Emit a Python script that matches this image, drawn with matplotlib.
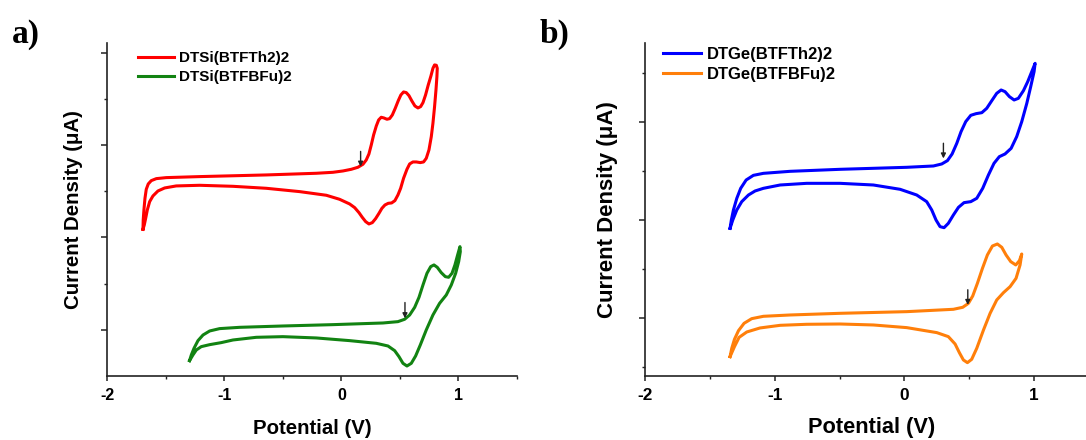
import matplotlib.pyplot as plt
from matplotlib.ticker import MultipleLocator, FixedLocator

plt.rcParams['font.family'] = 'Liberation Sans'
plt.rcParams['font.weight'] = 'bold'
plt.rcParams['axes.labelweight'] = 'bold'
plt.rcParams['axes.unicode_minus'] = False

# ---- data (forward scan, then reverse scan) ----
# a) DTSi(BTFTh2)2
si_th_v = [-1.695, -1.693, -1.687, -1.678, -1.667, -1.650, -1.624, -1.581, -1.496, -1.211,
           -0.641, -0.214, -0.072, 0.014, 0.085, 0.142, 0.185, 0.213, 0.236, 0.256,
           0.276, 0.299, 0.319, 0.341, 0.364, 0.390, 0.413, 0.436, 0.461, 0.487,
           0.509, 0.532, 0.555, 0.578, 0.603, 0.629, 0.655, 0.678, 0.698, 0.720,
           0.743, 0.766, 0.783, 0.797, 0.812, 0.820,
           0.817, 0.809, 0.797, 0.783, 0.769, 0.749, 0.726, 0.703, 0.675, 0.641,
           0.612, 0.584, 0.561, 0.532, 0.507, 0.484, 0.458, 0.430, 0.401, 0.373,
           0.347, 0.322, 0.293, 0.265, 0.236, 0.208, 0.179, 0.151, 0.114, 0.071,
           -0.015, -0.128, -0.356, -0.641, -0.926, -1.211, -1.411, -1.510, -1.567, -1.610,
           -1.638, -1.658, -1.672, -1.684, -1.695]
si_th_j = [3.175, 3.377, 3.593, 3.846, 4.040, 4.156, 4.228, 4.271, 4.293, 4.315,
           4.351, 4.387, 4.408, 4.437, 4.473, 4.517, 4.582, 4.675, 4.805, 5.000,
           5.216, 5.411, 5.541, 5.599, 5.584, 5.556, 5.570, 5.649, 5.794, 5.960,
           6.082, 6.147, 6.133, 6.068, 5.952, 5.844, 5.801, 5.830, 5.916, 6.082,
           6.299, 6.494, 6.659, 6.732, 6.724, 6.659,
           6.479, 6.190, 5.830, 5.469, 5.180, 4.892, 4.711, 4.632, 4.618, 4.632,
           4.632, 4.589, 4.473, 4.279, 4.062, 3.918, 3.795, 3.745, 3.737, 3.701,
           3.629, 3.521, 3.405, 3.319, 3.290, 3.341, 3.434, 3.535, 3.644, 3.723,
           3.824, 3.911, 3.990, 4.062, 4.105, 4.127, 4.113, 4.069, 4.004, 3.896,
           3.773, 3.593, 3.413, 3.268, 3.175]

# a) DTSi(BTFBFu)2
si_fu_v = [-1.297, -1.282, -1.259, -1.225, -1.182, -1.125, -1.040, -0.869, -0.499, -0.072,
           0.356, 0.484, 0.541, 0.584, 0.627, 0.664, 0.698, 0.732, 0.764, 0.792,
           0.820, 0.854, 0.889, 0.917, 0.946, 0.971, 0.994, 1.014,
           1.017, 1.003, 0.977, 0.940, 0.897, 0.840, 0.783, 0.726, 0.675, 0.635,
           0.598, 0.561, 0.527, 0.493, 0.456, 0.399, 0.299, 0.071, -0.214, -0.499,
           -0.727, -0.926, -1.026, -1.125, -1.197, -1.239, -1.268, -1.297]
si_fu_j = [0.332, 0.455, 0.599, 0.765, 0.887, 0.974, 1.025, 1.053, 1.082, 1.111,
           1.147, 1.176, 1.227, 1.320, 1.486, 1.703, 1.970, 2.222, 2.367, 2.403,
           2.352, 2.237, 2.150, 2.136, 2.222, 2.403, 2.619, 2.799,
           2.691, 2.475, 2.222, 1.970, 1.753, 1.573, 1.320, 0.996, 0.671, 0.433,
           0.274, 0.216, 0.274, 0.418, 0.548, 0.649, 0.707, 0.765, 0.823, 0.851,
           0.837, 0.779, 0.722, 0.678, 0.635, 0.563, 0.455, 0.332]

# b) DTGe(BTFTh2)2
ge_th_v = [-1.344, -1.334, -1.318, -1.292, -1.262, -1.220, -1.164, -1.087, -0.881, -0.496,
           0.018, 0.224, 0.288, 0.332, 0.368, 0.404, 0.437, 0.473, 0.512, 0.553,
           0.597, 0.635, 0.674, 0.712, 0.746, 0.776, 0.810, 0.846, 0.879, 0.918,
           0.951, 0.982, 1.008,
           1.000, 0.974, 0.944, 0.905, 0.866, 0.823, 0.776, 0.732, 0.691, 0.648,
           0.604, 0.558, 0.512, 0.460, 0.417, 0.378, 0.339, 0.306, 0.275, 0.244,
           0.211, 0.172, 0.095, -0.033, -0.239, -0.496, -0.753, -0.958, -1.087, -1.151,
           -1.202, -1.254, -1.292, -1.323, -1.344]
ge_th_j = [2.824, 2.994, 3.198, 3.436, 3.640, 3.810, 3.905, 3.946, 3.987, 4.028,
           4.069, 4.096, 4.137, 4.205, 4.341, 4.558, 4.797, 5.001, 5.130, 5.164,
           5.184, 5.273, 5.429, 5.579, 5.647, 5.613, 5.511, 5.443, 5.477, 5.633,
           5.817, 6.021, 6.191,
           6.021, 5.715, 5.375, 5.001, 4.695, 4.456, 4.341, 4.286, 4.150, 3.912,
           3.640, 3.436, 3.368, 3.348, 3.252, 3.096, 2.926, 2.837, 2.858, 2.994,
           3.198, 3.368, 3.504, 3.620, 3.708, 3.742, 3.742, 3.708, 3.640, 3.586,
           3.504, 3.368, 3.198, 2.994, 2.824]

# b) DTGe(BTFBFu)2
ge_fu_v = [-1.344, -1.331, -1.310, -1.279, -1.236, -1.177, -1.087, -0.881, -0.496, 0.018,
           0.378, 0.450, 0.494, 0.527, 0.563, 0.602, 0.640, 0.679, 0.717, 0.751,
           0.784, 0.820, 0.859, 0.887, 0.905,
           0.892, 0.861, 0.815, 0.764, 0.712, 0.661, 0.610, 0.558, 0.519, 0.486,
           0.455, 0.424, 0.391, 0.339, 0.250, 0.018, -0.239, -0.496, -0.753, -0.958,
           -1.113, -1.215, -1.274, -1.310, -1.344]
ge_fu_j = [0.205, 0.375, 0.559, 0.735, 0.885, 0.980, 1.028, 1.055, 1.089, 1.123,
           1.171, 1.212, 1.293, 1.443, 1.701, 2.007, 2.280, 2.463, 2.504, 2.436,
           2.280, 2.144, 2.076, 2.164, 2.300,
           2.076, 1.803, 1.633, 1.511, 1.361, 1.089, 0.749, 0.375, 0.150, 0.082,
           0.137, 0.286, 0.463, 0.613, 0.695, 0.797, 0.851, 0.871, 0.865, 0.844,
           0.790, 0.708, 0.599, 0.409, 0.205]

# onset arrows: (potential, tip, tail)
si_arrows = [(0.165, 4.53, 4.86), (0.544, 1.25, 1.59)]
ge_arrows = [(0.301, 4.25, 4.56), (0.489, 1.26, 1.57)]

x_ticks = [-2, -1, 0, 1]
x_ticklabels = ['-2', '-1', '0', '1']


def style_axes(ax, ylim, ymajor, yminor, fs):
    for side in ['top', 'right']:
        ax.spines[side].set_visible(False)
    for side in ['left', 'bottom']:
        ax.spines[side].set_linewidth(1.2)
        ax.spines[side].set_color('#222222')
    ax.set_xlim(-2, 1.5)
    ax.set_ylim(*ylim)
    ax.set_xticks(x_ticks)
    ax.set_xticklabels(x_ticklabels)
    ax.xaxis.set_minor_locator(MultipleLocator(0.5))
    ax.yaxis.set_major_locator(FixedLocator(ymajor))
    ax.yaxis.set_minor_locator(FixedLocator(yminor))
    ax.tick_params(axis='x', which='major', length=3.4, width=1.1, pad=5.5,
                   labelsize=fs, color='#222222')
    ax.tick_params(axis='x', which='minor', length=2.4, width=1.0, color='#222222')
    ax.tick_params(axis='y', which='major', length=4.2, width=1.1, labelleft=False,
                   color='#222222')
    ax.tick_params(axis='y', which='minor', length=2.2, width=1.0, color='#222222')


def draw_arrows(ax, arrows):
    for v, tip, tail in arrows:
        ax.annotate('', xy=(v, tip), xytext=(v, tail),
                    arrowprops=dict(arrowstyle='-|>', color='#222222', lw=1.0,
                                    mutation_scale=7, shrinkA=0, shrinkB=0))


fig = plt.figure(figsize=(10.86, 4.4), dpi=100)
ax1 = fig.add_axes([0.0988, 0.1455, 0.3771, 0.7561])
ax2 = fig.add_axes([0.5939, 0.1455, 0.418, 0.7561])

# panel a
ax1.plot(si_th_v, si_th_j, color='#ff0000', lw=2.2, solid_joinstyle='round',
         label='DTSi(BTFTh2)2')
ax1.plot(si_fu_v, si_fu_j, color='#128312', lw=2.2, solid_joinstyle='round',
         label='DTSi(BTFBFu)2')
draw_arrows(ax1, si_arrows)
style_axes(ax1, (0, 7.2), [1, 3, 5, 7], [2, 4, 6], 11.5)
ax1.set_xlabel('Potential (V)', fontsize=14.7, labelpad=11)
ax1.set_ylabel('Current Density (\u03bcA)', fontsize=14.7, labelpad=12)
ax1.legend(loc='upper left', bbox_to_anchor=(0.0757, 0.976), frameon=False,
           fontsize=11, handlelength=2.33, handletextpad=0.33, labelspacing=0.3,
           borderpad=0, borderaxespad=0)

# panel b
ax2.plot(ge_th_v, ge_th_j, color='#0000ff', lw=2.2, solid_joinstyle='round',
         label='DTGe(BTFTh2)2')
ax2.plot(ge_fu_v, ge_fu_j, color='#ff7f0a', lw=2.2, solid_joinstyle='round',
         label='DTGe(BTFBFu)2')
draw_arrows(ax2, ge_arrows)
style_axes(ax2, (-0.19, 6.6), [1, 3, 5], [0, 2, 4, 6], 12.4)
ax2.set_xlabel('Potential (V)', fontsize=15.7, labelpad=10)
ax2.set_ylabel('Current Density (\u03bcA)', fontsize=16, labelpad=13.5)
ax2.legend(loc='upper left', bbox_to_anchor=(0.0403, 0.99), frameon=False,
           fontsize=12, handlelength=2.26, handletextpad=0.34, labelspacing=0.32,
           borderpad=0, borderaxespad=0)

# panel letters
fig.text(0.011, 0.902, 'a)', family='Liberation Serif', weight='bold', fontsize=24,
         va='baseline')
fig.text(0.497, 0.902, 'b)', family='Liberation Serif', weight='bold', fontsize=24,
         va='baseline')

fig.savefig('out.png', dpi=100)
